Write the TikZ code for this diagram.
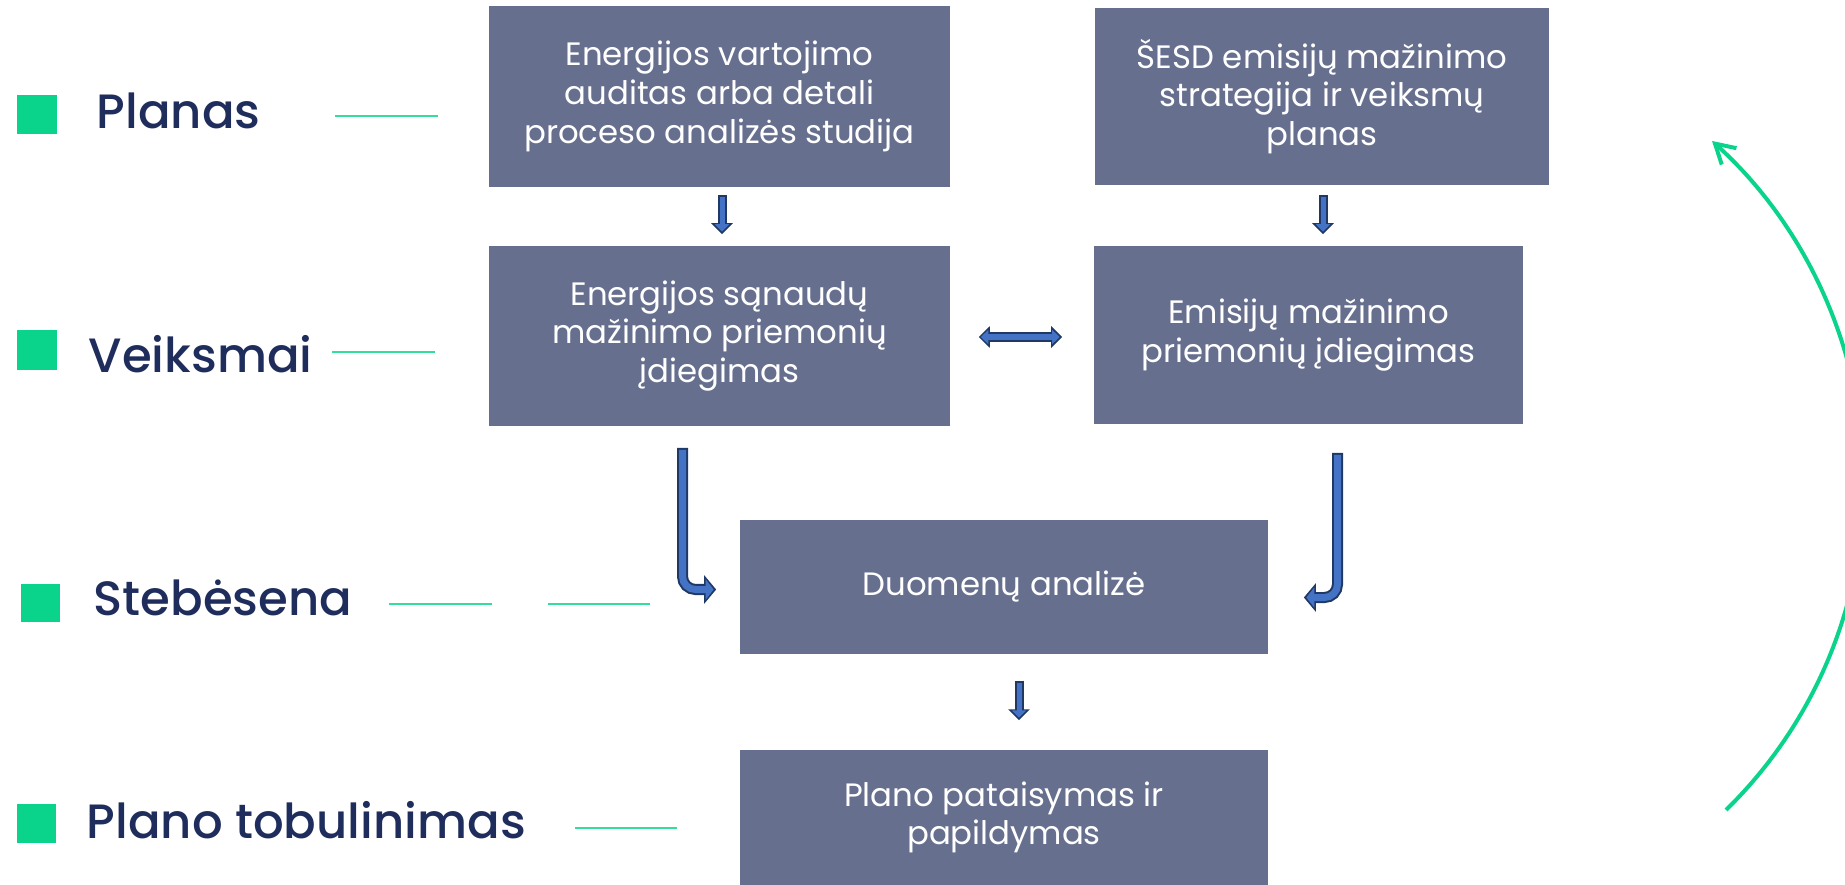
\documentclass[tikz,border=0pt]{standalone}
\usepackage{fontspec}
\setmainfont{Poppins}
\newfontfamily\labelfont{Poppins Medium}
\usetikzlibrary{arrows.meta,calc}

\definecolor{boxgray}{HTML}{676F8F}
\definecolor{labelnavy}{HTML}{1F2D5C}
\definecolor{markgreen}{HTML}{0AD48B}
\definecolor{linegreen}{HTML}{33DD9A}
\definecolor{arrowblue}{HTML}{4472C4}
\definecolor{arrowedge}{HTML}{1F3864}

\tikzset{
	flowedge/.style={draw=arrowedge,line width=0.09cm,>={Triangle[length=0.11cm,width=0.21cm]}},
	flowfill/.style={draw=arrowblue,line width=0.05cm,shorten <=0.02cm,shorten >=0.025cm,>={Triangle[length=0.075cm,width=0.14cm]}},
	bentedge/.style={draw=arrowedge,line width=0.11cm,rounded corners=0.13cm,>={Triangle[length=0.12cm,width=0.28cm]}},
	bentfill/.style={draw=arrowblue,line width=0.07cm,rounded corners=0.13cm,shorten <=0.02cm,shorten >=0.025cm,>={Triangle[length=0.08cm,width=0.2cm]}},
}

\begin{document}
\begin{tikzpicture}[x=0.01cm,y=-0.01cm]
				\useasboundingbox (0,0) rectangle (1845,885);
				\clip (0,0) rectangle (1845,885);
				
				% stages
				\begin{scope}[every node/.style={anchor=base west,inner sep=0pt,text=labelnavy,font=\labelfont\fontsize{13.7pt}{16pt}\selectfont}]
					\node (Planas) at (96,129) {Planas};
					\node (Veiksmai) at (88,373) {Veiksmai};
					\node (Stebesena) at (93,615) {Stebėsena};
					\node (Planotob) at (86,838) {Plano tobulinimas};
				\end{scope}
				\fill[markgreen] (17,95) rectangle (57,134);
				\fill[markgreen] (17,330) rectangle (57,370);
				\fill[markgreen] (21,584) rectangle (60,622);
				\fill[markgreen] (17,804) rectangle (56,843);
				\begin{scope}[draw=linegreen,line width=0.02cm]
					\draw (335,116) -- (438,116);
					\draw (332,352) -- (435,352);
					\draw (389,604) -- (492,604);
					\draw (548,604) -- (650,604);
					\draw (575,828) -- (677,828);
				\end{scope}
				
				\begin{scope}[every node/.style={rectangle,fill=boxgray,text=white,align=center,inner sep=0pt,font=\fontsize{9.2pt}{11pt}\selectfont}]
					\node[minimum width=4.61cm,minimum height=1.81cm] (auditas) at (719.5,96.5) {Energijos vartojimo\\auditas arba detali\\proceso analizės studija};
					\node[minimum width=4.53cm,minimum height=1.77cm] (strategija) at (1322,96.5) {ŠESD emisijų mažinimo\\strategija ir veiksmų\\planas};
					\node[minimum width=4.61cm,minimum height=1.80cm] (priemones) at (719.5,336) {Energijos sąnaudų\\mažinimo priemonių\\įdiegimas};
					\node[minimum width=4.29cm,minimum height=1.78cm] (emisijos) at (1308.5,335) {Emisijų mažinimo\\priemonių įdiegimas};
					\node[minimum width=5.28cm,minimum height=1.34cm] (analize) at (1004,587) {Duomenų analizė};
					\node[minimum width=5.28cm,minimum height=1.35cm] (pataisymas) at (1004,817.5) {Plano pataisymas ir\\papildymas};
				\end{scope}
				
				% block arrows
				\draw[flowedge,->] ($(auditas.south)+(2.5,7)$) -- ($(priemones.north)+(2.5,-11)$);
				\draw[flowfill,->] ($(auditas.south)+(2.5,7)$) -- ($(priemones.north)+(2.5,-11)$);
				\draw[flowedge,->] ($(strategija.south)+(1,9)$) -- ($(emisijos.north)+(14.5,-11)$);
				\draw[flowfill,->] ($(strategija.south)+(1,9)$) -- ($(emisijos.north)+(14.5,-11)$);
				\draw[flowedge,->] ($(analize.south)+(15,26)$) -- ($(pataisymas.north)+(15,-29)$);
				\draw[flowfill,->] ($(analize.south)+(15,26)$) -- ($(pataisymas.north)+(15,-29)$);
				\draw[flowedge,<->] ($(priemones.east)+(28,1)$) -- ($(emisijos.west)+(-31,2)$);
				\draw[flowfill,<->] ($(priemones.east)+(28,1)$) -- ($(emisijos.west)+(-31,2)$);
				\draw[bentedge,->] ($(priemones.south)+(-37,21)$) |- ($(analize.west)+(-23,2.5)$);
				\draw[bentfill,->] ($(priemones.south)+(-37,21)$) |- ($(analize.west)+(-23,2.5)$);
				\draw[bentedge,->] ($(emisijos.south)+(29,28)$) |- ($(analize.east)+(35,10.5)$);
				\draw[bentfill,->] ($(emisijos.south)+(29,28)$) |- ($(analize.east)+(35,10.5)$);
				
				% cycle
				\draw[markgreen,line width=0.04cm,-{Straight Barb[length=0.19cm,width=0.22cm]}] (1726,810) arc[start angle=45.6,end angle=-48,radius=459];
			\end{tikzpicture}
\end{document}
